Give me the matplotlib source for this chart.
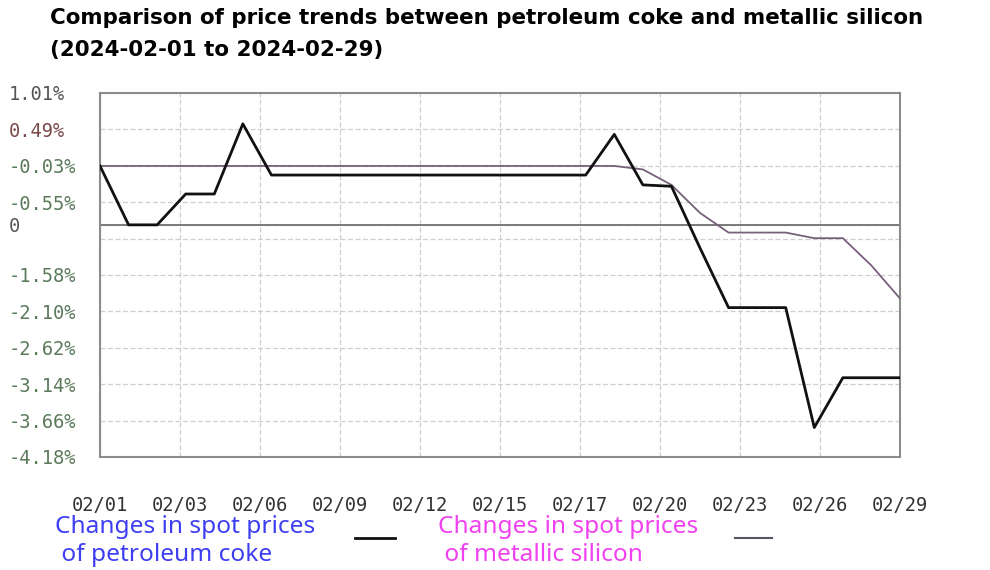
import numpy as np
import matplotlib
matplotlib.use('Agg')
import matplotlib.pyplot as plt
from matplotlib.lines import Line2D

# Daily change (%) over Feb 2024, one value per calendar day 02/01 .. 02/29
petcoke = [-0.03, -0.87, -0.87, -0.43, -0.43, 0.57, -0.16, -0.16, -0.16, -0.16,
           -0.16, -0.16, -0.16, -0.16, -0.16, -0.16, -0.16, -0.16, 0.42, -0.30,
           -0.32, -1.20, -2.05, -2.05, -2.05, -3.76, -3.05, -3.05, -3.05]
silicon = [-0.03, -0.03, -0.03, -0.03, -0.03, -0.03, -0.03, -0.03, -0.03, -0.03,
           -0.03, -0.03, -0.03, -0.03, -0.03, -0.03, -0.03, -0.03, -0.03, -0.08,
           -0.30, -0.70, -0.98, -0.98, -0.98, -1.06, -1.06, -1.45, -1.92]

x_labels = ['02/01', '02/03', '02/06', '02/09', '02/12', '02/15',
            '02/17', '02/20', '02/23', '02/26', '02/29']
y_ticks = [1.01, 0.49, -0.03, -0.55, -1.07, -1.58, -2.10, -2.62, -3.14, -3.66, -4.18]
zero_line = -0.87  # the odd "0" line as drawn in the source chart

fig = plt.figure(figsize=(9.9, 5.7), dpi=100)
ax = fig.add_axes([100 / 990, 1 - 457 / 570, 800 / 990, 364 / 570])

days = np.arange(len(petcoke))
ax.plot(days, silicon, color='#76607a', lw=1.3, zorder=3)
ax.plot(days, petcoke, color='#111111', lw=2.0, zorder=4)
ax.axhline(zero_line, color='#707070', lw=1.3, zorder=2)

ax.set_xlim(0, len(petcoke) - 1)
ax.set_ylim(y_ticks[-1], y_ticks[0])

xt = np.linspace(0, len(petcoke) - 1, len(x_labels))
ax.set_xticks(xt)
ax.set_xticklabels(x_labels)

ax.set_yticks(y_ticks + [zero_line])
ylabels = []
for v in y_ticks:
    ylabels.append('' if v == -1.07 else f'{v:.2f}%')
ylabels.append('0')
ax.set_yticklabels(ylabels)

ax.grid(True, color='#cfcfcf', lw=0.9, ls=(0, (4, 2)))
ax.tick_params(length=0)
ax.tick_params(axis='x', pad=28, labelsize=13.5, labelcolor='#333333')
ax.tick_params(axis='y', pad=66, labelsize=13.5)
for lab in ax.get_xticklabels():
    lab.set_fontfamily('DejaVu Sans Mono')
for lab in ax.get_yticklabels():
    lab.set_fontfamily('DejaVu Sans Mono')
    lab.set_horizontalalignment('left')
    t = lab.get_text()
    if t.startswith('-'):
        lab.set_color('#5b7a5b')
    elif t == '0.49%':
        lab.set_color('#7a4a4a')
    else:
        lab.set_color('#555555')

for s in ax.spines.values():
    s.set_color('#8c8c8c')
    s.set_linewidth(1.5)

fig.text(50 / 990, 1 - 18 / 570,
         'Comparison of price trends between petroleum coke and metallic silicon',
         fontsize=15.4, fontweight='bold', va='center', ha='left')
fig.text(50 / 990, 1 - 50 / 570, '(2024-02-01 to 2024-02-29)',
         fontsize=15.4, fontweight='bold', va='center', ha='left')

# legend
fig.text(55 / 990, 1 - 541 / 570, 'Changes in spot prices\n of petroleum coke',
         fontsize=17.6, family='Noto Sans', color='#3d3df2', va='center', ha='left',
         linespacing=1.2)
fig.add_artist(Line2D([355 / 990, 395 / 990], [1 - 538 / 570] * 2,
                      color='#111111', lw=2.0, transform=fig.transFigure))
fig.text(438 / 990, 1 - 541 / 570, 'Changes in spot prices\n of metallic silicon',
         fontsize=17.6, family='Noto Sans', color='#f040f0', va='center', ha='left',
         linespacing=1.2)
fig.add_artist(Line2D([735 / 990, 772 / 990], [1 - 538 / 570] * 2,
                      color='#555566', lw=1.5, transform=fig.transFigure))

fig.savefig('out.png', dpi=100)
